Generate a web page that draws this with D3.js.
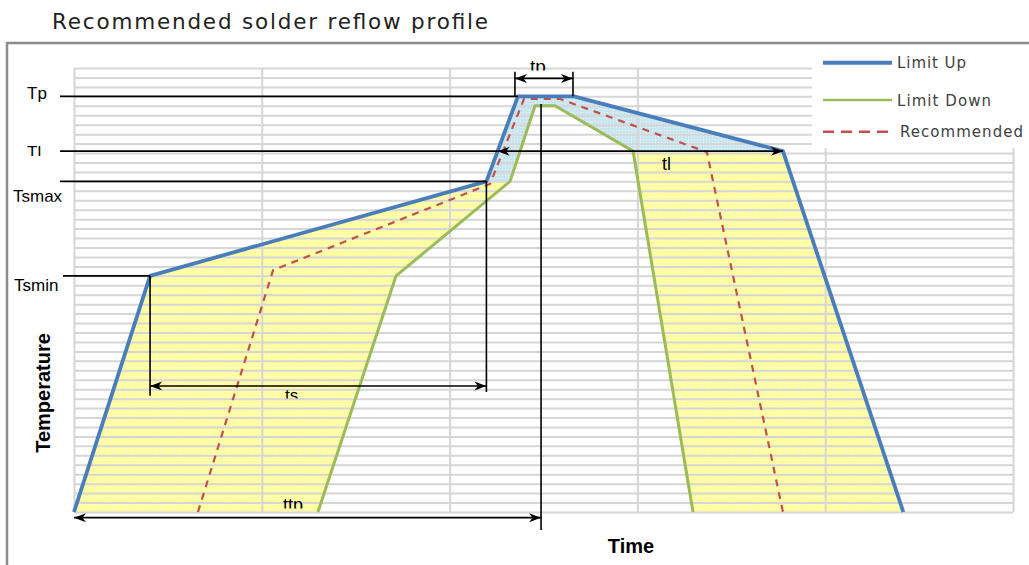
<!DOCTYPE html>
<html><head><meta charset="utf-8">
<script src="https://cdn.jsdelivr.net/npm/d3@7"></script>
<style>body{margin:0;background:#fff}svg{display:block}</style>
</head><body><svg id="c" width="1029" height="565"></svg>
<script>
// ---- data (time in s, temperature in °C) ----
const limitUpTime   = [0, 40.5, 219.6, 236.4, 266.2, 377.5, 441.6];
const limitUpTemp   = [25, 150, 200, 245, 245, 216, 25];
const limitDownTime = [129.9, 171.5, 232.2, 245.5, 256.1, 297.7, 329.6];
const limitDownTemp = [25, 150, 200, 240, 240, 216, 25];
const recTime       = [66, 106, 221.5, 239.6, 258.8, 337, 377.5];
const recTemp       = [25, 153, 198.6, 243.6, 243.6, 215.5, 25];
const levelNames    = ["Tp", "Tl", "Tsmax", "Tsmin"];
const levelTemps    = [245, 216, 200, 150];
const tpSpan        = [234.8, 265.7];
const ttpTime       = 248.7;
const timeTicks     = [0, 100, 200, 300, 400, 500];
const tempTicks     = d3.range(25, 261, 5);
const seriesNames   = ["Limit Up", "Limit Down", "Recommended"];
const seriesColors  = ["#4a7ebb", "#9bbb59", "#c0504d"];

const svg = d3.select("#c");
const x = d3.scaleLinear([0, 500], [74, 1013]);
const y = d3.scaleLinear([25, 260], [512, 68]);

const zip = (t, v) => t.map((d, i) => [d, v[i]]);
const up = zip(limitUpTime, limitUpTemp);
const down = zip(limitDownTime, limitDownTemp);
const rec = zip(recTime, recTemp);

const defs = svg.append("defs");
function pat(id, bg, dot) {
  const p = defs.append("pattern").attr("id", id).attr("width", 3).attr("height", 3)
    .attr("patternUnits", "userSpaceOnUse");
  p.append("rect").attr("width", 3).attr("height", 3).attr("fill", bg);
  p.append("rect").attr("x", 1).attr("y", 1).attr("width", 1).attr("height", 1).attr("fill", dot);
}
pat("yel", "#ffffa0", "#ffffe0");
pat("blu", "#c9e6f0", "#e6f4f8");

const mk = defs.append("marker").attr("id", "arr").attr("viewBox", "-1 -6 14 12")
  .attr("refX", 12).attr("refY", 0).attr("markerWidth", 14).attr("markerHeight", 12)
  .attr("markerUnits", "userSpaceOnUse").attr("orient", "auto-start-reverse");
mk.append("path").attr("d", "M0,-4.5 L12,0 L0,4.5 L3.5,0 Z").attr("fill", "#000");

// frame
svg.append("rect").attr("x", 7).attr("y", 43).attr("width", 1100).attr("height", 600)
  .attr("fill", "none").attr("stroke", "#8c8c8c").attr("stroke-width", 2.5);

// title
svg.append("text").attr("x", 52).attr("y", 29).text("Recommended solder reflow profile")
  .attr("font-family", "DejaVu Sans, sans-serif").attr("font-size", 21.5).attr("fill", "#222")
  .attr("textLength", 436).attr("lengthAdjust", "spacing");

const line = d3.line().x(d => x(d[0])).y(d => y(d[1]));

// fills
const polyYL = up.slice(0, 3).concat(down.slice(0, 3).reverse());
const polyB  = up.slice(2, 6).concat(down.slice(2, 6).reverse());
const polyYR = up.slice(5, 7).concat(down.slice(5, 7).reverse());
svg.append("path").attr("d", line(polyYL) + "Z").attr("fill", "url(#yel)");
svg.append("path").attr("d", line(polyYR) + "Z").attr("fill", "url(#yel)");
svg.append("path").attr("d", line(polyB) + "Z").attr("fill", "url(#blu)");

// grid
const gy = svg.append("g").attr("transform", `translate(${x(0)},0)`)
  .call(d3.axisLeft(y).tickValues(tempTicks).tickSize(-(x(500) - x(0))).tickFormat(""));
const gx = svg.append("g").attr("transform", `translate(0,${y(25)})`)
  .call(d3.axisBottom(x).tickValues(timeTicks).tickSize(-(y(25) - y(260))).tickFormat(""));
[gy, gx].forEach(g => {
  g.select(".domain").remove();
  g.selectAll(".tick line").attr("stroke", "#d6d6d6").attr("stroke-width", 2);
});

// legend box
svg.append("rect").attr("x", 812).attr("y", 46).attr("width", 220).attr("height", 102).attr("fill", "#fff");

// curves
svg.append("path").attr("d", line(down)).attr("fill", "none").attr("stroke", seriesColors[1])
  .attr("stroke-width", 3).attr("stroke-linejoin", "round");
svg.append("path").attr("d", line(up)).attr("fill", "none").attr("stroke", seriesColors[0])
  .attr("stroke-width", 3.8).attr("stroke-linejoin", "round");
svg.append("path").attr("d", line(rec)).attr("fill", "none").attr("stroke", seriesColors[2])
  .attr("stroke-width", 2.2).attr("stroke-dasharray", "7,6");

// annotations
const ann = svg.append("g").attr("stroke", "#000").attr("stroke-width", 1.6).attr("fill", "none");
const L0 = x(0) - 14;
function seg(x1, y1, x2, y2, arrows) {
  const p = ann.append("line").attr("x1", x1).attr("y1", y1).attr("x2", x2).attr("y2", y2);
  if (arrows) p.attr("marker-start", "url(#arr)").attr("marker-end", "url(#arr)");
  return p;
}
// Tp
seg(L0, y(levelTemps[0]), x(limitUpTime[3]), y(levelTemps[0]));
// Tl with tl arrow
const tCross = limitUpTime[2] + (limitUpTime[3] - limitUpTime[2]) * (levelTemps[1] - limitUpTemp[2]) / (limitUpTemp[3] - limitUpTemp[2]);
seg(L0, y(levelTemps[1]), x(tCross), y(levelTemps[1]));
seg(x(tCross), y(levelTemps[1]), x(limitUpTime[5]), y(levelTemps[1]), true);
// Tsmax
seg(L0, y(levelTemps[2]), x(limitUpTime[2]), y(levelTemps[2]));
seg(x(limitUpTime[2]), y(levelTemps[2]), x(limitUpTime[2]), y(88.5));
// Tsmin
seg(L0 + 3, y(levelTemps[3]), x(limitUpTime[1]), y(levelTemps[3]));
seg(x(limitUpTime[1]), y(levelTemps[3]), x(limitUpTime[1]), y(86.5));
// ts
seg(x(limitUpTime[1]), y(91.7), x(limitUpTime[2]), y(91.7), true);
// ttp
seg(x(0), y(22), x(ttpTime), y(22), true);
seg(x(ttpTime), y(241), x(ttpTime), y(15.5));
// tp
seg(x(tpSpan[0]), y(258), x(tpSpan[0]), y(levelTemps[0]));
seg(x(tpSpan[1]), y(258), x(tpSpan[1]), y(levelTemps[0]));
seg(x(tpSpan[0]), y(254.5), x(tpSpan[1]), y(254.5), true);

// labels (clipped like the original text boxes)
const labels = [
  {t: levelNames[0], x: 27, y: 99, clip: 102, s: 17},
  {t: levelNames[1], x: 27, y: 158, clip: 156, s: 17},
  {t: levelNames[2], x: 13, y: 202, clip: 201.7, s: 17},
  {t: levelNames[3], x: 14, y: 290.5, clip: 291.7, s: 17},
  {t: "ts", x: 285, y: 401, clip: 398.5, s: 17},
  {t: "ttp", x: 283, y: 511, clip: 508.5, s: 18},
  {t: "tl", x: 662, y: 170, clip: 600, s: 18},
  {t: "tp", x: 530, y: 73, clip: 70.5, s: 19}
];
labels.forEach((d, i) => {
  defs.append("clipPath").attr("id", "cl" + i).append("rect")
    .attr("x", d.x - 5).attr("y", d.y - 30).attr("width", 80).attr("height", d.clip - (d.y - 30));
  svg.append("text").attr("x", d.x).attr("y", d.y).text(d.t)
    .attr("clip-path", `url(#cl${i})`)
    .attr("font-family", "Liberation Sans, Arial, sans-serif").attr("font-size", d.s).attr("fill", "#000");
});

// axis titles
svg.append("text").attr("transform", "translate(50,393) rotate(-90)").attr("text-anchor", "middle")
  .text("Temperature").attr("font-family", "Liberation Sans, Arial, sans-serif")
  .attr("font-weight", "bold").attr("font-size", 20).attr("fill", "#000");
svg.append("text").attr("x", 631).attr("y", 553).attr("text-anchor", "middle")
  .text("Time").attr("font-family", "Liberation Sans, Arial, sans-serif")
  .attr("font-weight", "bold").attr("font-size", 20).attr("fill", "#000");

// legend
const legY = [62.7, 100, 131.7];
const legW = [4, 2.5, 2.5];
const legTx = [897, 897, 900];
const legLen = [69, 94, 123];
seriesNames.forEach((n, i) => {
  const l = svg.append("line").attr("x1", 823).attr("x2", 892).attr("y1", legY[i]).attr("y2", legY[i])
    .attr("stroke", seriesColors[i]).attr("stroke-width", legW[i]);
  if (i === 2) l.attr("stroke-dasharray", "11,7");
  svg.append("text").attr("x", legTx[i]).attr("y", legY[i] + 5.5).text(n)
    .attr("font-family", "DejaVu Sans, sans-serif").attr("font-size", 15)
    .attr("textLength", legLen[i]).attr("fill", "#404040");
});
</script></body></html>
